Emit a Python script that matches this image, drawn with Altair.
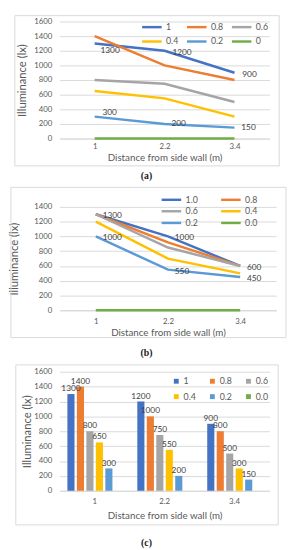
import altair as alt
import pandas as pd

distances = ["1", "2.2", "3.4"]

# panel (a): line chart
series_a = ["1", "0.8", "0.6", "0.4", "0.2", "0"]
a_s1 = [1300, 1200, 900]
a_s08 = [1400, 1000, 800]
a_s06 = [800, 750, 500]
a_s04 = [650, 550, 300]
a_s02 = [300, 200, 150]
a_s0 = [0, 0, 0]

# panel (b): line chart
series_b = ["1.0", "0.8", "0.6", "0.4", "0.2", "0.0"]
b_s10 = [1300, 1000, 600]
b_s08 = [1300, 920, 600]
b_s06 = [1300, 850, 600]
b_s04 = [1200, 700, 500]
b_s02 = [1000, 550, 450]
b_s00 = [0, 0, 0]

# panel (c): bar chart
series_c = ["1", "0.8", "0.6", "0.4", "0.2", "0.0"]
c_s1 = [1300, 1200, 900]
c_s08 = [1400, 1000, 800]
c_s06 = [800, 750, 500]
c_s04 = [650, 550, 300]
c_s02 = [300, 200, 150]
c_s00 = [0, 0, 0]

colors = ["#4472C4", "#ED7D31", "#A5A5A5", "#FFC000", "#5B9BD5", "#70AD47"]
ticks_a = [0, 200, 400, 600, 800, 1000, 1200, 1400, 1600]
ticks_b = [0, 200, 400, 600, 800, 1000, 1200, 1400]

FONT = "Lato"
GRAY = "#595959"
LABEL = "#404040"
LINE_SYMBOL = "M -1 0 L 9 0"


def long_df(series, lists):
    rows = []
    for s, vals in zip(series, lists):
        for d, v in zip(distances, vals):
            rows.append({"dist": d, "series": s, "value": v})
    return pd.DataFrame(rows)


df_a = long_df(series_a, [a_s1, a_s08, a_s06, a_s04, a_s02, a_s0])
df_b = long_df(series_b, [b_s10, b_s08, b_s06, b_s04, b_s02, b_s00])
df_c = long_df(series_c, [c_s1, c_s08, c_s06, c_s04, c_s02, c_s00])
one = pd.DataFrame({"k": [0]})


def y_enc(values, top, pad_title):
    return alt.Y("value:Q", scale=alt.Scale(domain=[0, top]),
                 axis=alt.Axis(values=values, format="d", labelOverlap=False,
                               grid=True, gridColor="#d9d9d9", domain=False,
                               ticks=False, labelPadding=8, labelFont=FONT,
                               labelFontSize=8, labelColor=GRAY,
                               title="Illuminance (lx)", titleFont=FONT,
                               titleFontSize=11.5, titleFontWeight="normal",
                               titleColor=GRAY, titlePadding=pad_title))


def x_enc(scale, label_pad, title_pad):
    return alt.X("dist:N", sort=distances, scale=scale,
                 axis=alt.Axis(labelAngle=0, grid=False, ticks=False, domain=True,
                               domainColor="#d9d9d9", labelPadding=label_pad,
                               labelFont=FONT, labelFontSize=8, labelColor=GRAY,
                               title="Distance from side wall (m)", titleFont=FONT,
                               titleFontSize=10, titleFontWeight="normal",
                               titleColor=GRAY, titlePadding=title_pad))


def frame(x1, x2, y1, y2):
    return alt.Chart(one).mark_rect(fillOpacity=0, stroke="#d9d9d9", strokeWidth=1).encode(
        x=alt.value(x1), x2=alt.value(x2), y=alt.value(y1), y2=alt.value(y2))


def caption(txt, x, y):
    return alt.Chart(one).mark_text(font="Liberation Serif", fontSize=10,
                                    fontWeight="bold", color="#222222").encode(
        x=alt.value(x), y=alt.value(y), text=alt.value(txt))


def line_legend(x, y, cols, col_pad, row_pad):
    return alt.Legend(title=None, orient="none", legendX=x, legendY=y,
                      direction="horizontal", columns=cols,
                      symbolType=LINE_SYMBOL, symbolSize=16,
                      symbolStrokeWidth=2.5, labelFont=FONT,
                      labelFontSize=9, labelColor=GRAY,
                      labelOffset=18, columnPadding=col_pad, rowPadding=row_pad,
                      gridAlign="all")


lab_kw = dict(align="left", baseline="middle", font=FONT, fontSize=8.5, color=LABEL)

# ---------- panel (a)
W_A, H_A = 215, 120
xa = x_enc(alt.Scale(type="point", padding=0.5), 4, 2)
ya = y_enc(ticks_a, 1600, 6)
base_a = alt.Chart(df_a)
lines_a = base_a.mark_line(strokeWidth=2.5).encode(
    x=xa, y=ya,
    color=alt.Color("series:N", sort=series_a,
                    scale=alt.Scale(domain=series_a, range=colors),
                    legend=line_legend(82, 1, 3, 3, 4)),
    order=alt.Order("dist:N"),
)
la1 = base_a.transform_filter("datum.series == '1' && datum.dist == '1'").mark_text(
    dx=6, dy=7, **lab_kw).encode(x=xa, y=ya, text="value:Q")
la2 = base_a.transform_filter("datum.series == '1' && datum.dist != '1'").mark_text(
    dx=8, dy=1, **lab_kw).encode(x=xa, y=ya, text="value:Q")
la3 = base_a.transform_filter("datum.series == '0.2' && datum.dist == '1'").mark_text(
    dx=8, dy=-5, **lab_kw).encode(x=xa, y=ya, text="value:Q")
la4 = base_a.transform_filter("datum.series == '0.2' && datum.dist != '1'").mark_text(
    dx=7, dy=-1, **lab_kw).encode(x=xa, y=ya, text="value:Q")
panel_a = alt.layer(frame(-46, 225, -6, 148), lines_a, la1, la2, la3, la4,
                    caption("(a)", 89, 158)).properties(width=W_A, height=H_A)

# ---------- panel (b)
W_B, H_B = 222, 106
xb = x_enc(alt.Scale(type="point", padding=0.5), 8, 2)
yb = y_enc(ticks_b, 1400, 15)
base_b = alt.Chart(df_b)
lines_b = base_b.mark_line(strokeWidth=2.5).encode(
    x=xb, y=yb,
    color=alt.Color("series:N", sort=series_b,
                    scale=alt.Scale(domain=series_b, range=colors),
                    legend=line_legend(102, -12, 2, 18, 1)),
    order=alt.Order("dist:N"),
)
lb1 = base_b.transform_filter("datum.series == '1.0' || datum.series == '0.2'").mark_text(
    dx=7, dy=1, **lab_kw).encode(x=xb, y=yb, text="value:Q")
panel_b = alt.layer(frame(-50, 232, -20, 134), lines_b, lb1,
                    caption("(b)", 89, 150)).properties(width=W_B, height=H_B)

# ---------- panel (c)
W_C, H_C = 215, 122
xc = x_enc(alt.Scale(paddingInner=0.22, paddingOuter=0.11), 7, 5)
yc = y_enc(ticks_a, 1600, 1)
xo = alt.XOffset("series:N", sort=series_c, scale=alt.Scale(paddingInner=0.25))
base_c = alt.Chart(df_c)
bars_c = base_c.mark_bar().encode(
    x=xc, xOffset=xo, y=yc,
    color=alt.Color("series:N", sort=series_c,
                    scale=alt.Scale(domain=series_c, range=colors),
                    legend=alt.Legend(title=None, orient="none", legendX=115, legendY=5,
                                      direction="horizontal", columns=3,
                                      symbolType="square", symbolSize=25,
                                      labelFont=FONT, labelFontSize=9, labelColor=GRAY,
                                      labelOffset=3, columnPadding=12, rowPadding=6,
                                      gridAlign="all")),
)
lc = base_c.transform_filter("datum.series != '0.0'").mark_text(
    baseline="bottom", dy=-1, font=FONT, fontSize=8.5, color=LABEL).encode(
    x=xc, xOffset=xo, y=yc, text="value:Q")
panel_c = alt.layer(frame(-45, 224, -7, 157), bars_c, lc,
                    caption("(c)", 89, 176)).properties(width=W_C, height=H_C)

chart = alt.vconcat(panel_a, panel_b, panel_c, spacing=6).resolve_scale(
    color="independent", x="independent", y="independent", xOffset="independent"
).properties(padding=0).configure_view(strokeWidth=0)

chart.save("out.html", embed_options={"renderer": "svg", "actions": False})
